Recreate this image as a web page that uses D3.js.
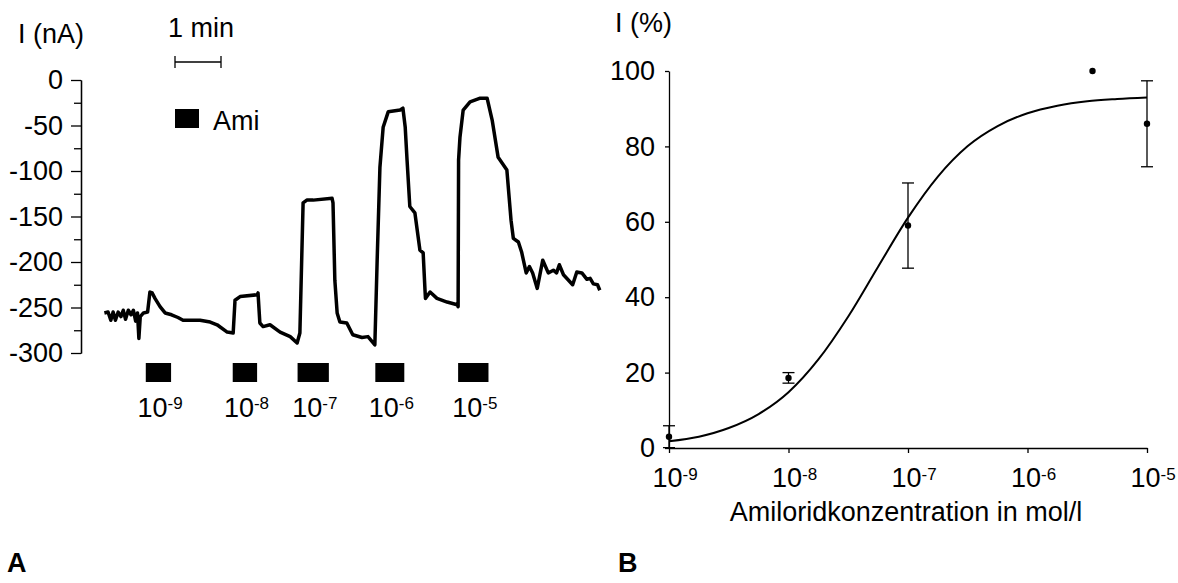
<!DOCTYPE html>
<html>
<head>
<meta charset="utf-8">
<script src="https://cdn.jsdelivr.net/npm/d3@7"></script>
<style>
  body { margin: 0; background: #fff; }
  svg { display: block; font-family: 'Liberation Sans', Arial, sans-serif; }
  .axis path, .axis line { stroke: #000; stroke-width: 1.3px; }
  .axis text { font-size: 27px; fill: #000; font-family: 'Liberation Sans', Arial, sans-serif; }
</style>
</head>
<body>
<div id="chart"></div>
<script>
// Panel A: current trace (time in min, current in nA)
const traceTime = [
  0.03, 0.11, 0.17, 0.22, 0.27, 0.33, 0.39, 0.44, 0.49, 0.55, 0.61, 0.66, 0.71, 0.75, 0.78, 0.81,
  0.88, 0.97, 1.02, 1.07, 1.13, 1.24, 1.35, 1.49, 1.63, 1.74, 2.0, 2.11, 2.33, 2.48, 2.7, 2.83,
  2.87, 2.98, 3.35, 3.37, 3.41, 3.48, 3.63, 3.85, 4.07, 4.22, 4.28, 4.35, 4.43, 4.57, 4.98, 5.0,
  5.04, 5.09, 5.15, 5.3, 5.43, 5.63, 5.76, 5.91, 5.96, 6.02, 6.09, 6.2, 6.46, 6.52, 6.57, 6.61,
  6.67, 6.78, 6.89, 6.96, 7.0, 7.01, 7.11, 7.26, 7.48, 7.7, 7.72, 7.73, 7.76, 7.83, 7.98, 8.2,
  8.35, 8.46, 8.59, 8.78, 8.87, 8.92, 9.03, 9.1, 9.2, 9.27, 9.34, 9.44, 9.56, 9.68, 9.79, 9.86,
  9.92, 10.01, 10.12, 10.21, 10.3, 10.41, 10.52, 10.59, 10.66, 10.75, 10.8,
];
const traceCurrent = [
  -256, -255, -264, -255, -264, -255, -260, -253, -263, -253, -258, -253, -265, -256, -284, -260,
  -256, -255, -233, -234, -240, -249, -256, -258, -261, -264, -264, -264, -266, -269, -277, -278,
  -242, -238, -236, -234, -267, -271, -269, -277, -282, -289, -278, -135, -132, -132, -130, -135,
  -220, -256, -266, -267, -280, -283, -282, -291, -198, -96, -52, -35, -33, -31, -52, -88,
  -139, -146, -187, -190, -231, -240, -233, -240, -244, -247, -249, -88, -63, -33, -24, -20,
  -20, -44, -85, -99, -154, -174, -178, -189, -212, -205, -212, -229, -198, -212, -209, -212,
  -203, -214, -220, -225, -211, -212, -219, -218, -224, -225, -231,
];
const amiStart = [0.93, 2.82, 4.23, 5.92, 7.72];
const amiEnd = [1.48, 3.35, 4.91, 6.55, 8.38];
const amiExponents = ['-9', '-8', '-7', '-6', '-5'];
const currentTicks = [0, -50, -100, -150, -200, -250, -300];
const currentMinorTicks = [-25, -75, -125, -175, -225, -275];

// Panel B: dose response (concentration in mol/l, current in %)
const doseConc = [1e-9, 1e-8, 1e-7, 3.5e-6, 1e-5];
const doseMean = [3.0, 18.6, 59.0, 100, 86];
const doseErr = [2.9, 1.4, 11.3, 0, 11.4];
const fitExponent = [-9, -8.75, -8.5, -8.25, -8, -7.75, -7.5, -7.25, -7, -6.75, -6.5, -6.25, -6, -5.75, -5.5, -5.25, -5];
const fitPercent = [1.8, 3.0, 5.3, 9.0, 14.8, 23.5, 34.9, 48.1, 61.1, 72.0, 80.1, 85.4, 88.8, 90.8, 92.0, 92.6, 93.0];
const concTicks = [1e-9, 1e-8, 1e-7, 1e-6, 1e-5];
const concTickExponents = ['-9', '-8', '-7', '-6', '-5'];
const percentTicks = [0, 20, 40, 60, 80, 100];

const svg = d3
  .select('#chart')
  .append('svg')
  .attr('width', 1178)
  .attr('height', 583);

class TraceChart {
  constructor(_svg) {
    this.svg = _svg;
    this.initVis();
  }

  initVis() {
    const vis = this;

    // 1 min = 46 px
    vis.x = d3.scaleLinear().domain([0, 10.8]).range([103, 103 + 10.8 * 46]);
    vis.y = d3.scaleLinear().domain([-300, 0]).range([353, 80]);

    vis.g = vis.svg.append('g');

    vis.renderVis();
  }

  renderVis() {
    const vis = this;

    vis.g
      .append('g')
      .attr('class', 'axis')
      .attr('transform', 'translate(81,0)')
      .call(d3.axisLeft(vis.y).tickValues(currentMinorTicks).tickSize(7).tickSizeOuter(0).tickFormat(''));

    // plain hyphen as in the original, not the unicode minus
    vis.g
      .append('g')
      .attr('class', 'axis')
      .attr('transform', 'translate(81,0)')
      .call(
        d3
          .axisLeft(vis.y)
          .tickValues(currentTicks)
          .tickSize(10)
          .tickSizeOuter(0)
          .tickPadding(8)
          .tickFormat((d) => String(d))
      );

    vis.g
      .append('text')
      .attr('x', 18)
      .attr('y', 43)
      .style('font-size', '27px')
      .text('I (nA)');

    // scale bar
    const barLen = vis.x(1) - vis.x(0);
    const sb = vis.g.append('g').attr('transform', 'translate(175,62)');
    sb.append('line').attr('x1', 0).attr('x2', barLen).attr('stroke', '#000').attr('stroke-width', 1.3);
    sb.selectAll('.cap')
      .data([0, barLen])
      .enter()
      .append('line')
      .attr('x1', (d) => d)
      .attr('x2', (d) => d)
      .attr('y1', -6)
      .attr('y2', 6)
      .attr('stroke', '#000')
      .attr('stroke-width', 1.3);
    vis.g
      .append('text')
      .attr('x', 168)
      .attr('y', 37)
      .style('font-size', '27px')
      .text('1 min');

    // legend
    vis.g.append('rect').attr('x', 175).attr('y', 109).attr('width', 24).attr('height', 19).attr('fill', '#000');
    vis.g
      .append('text')
      .attr('x', 213)
      .attr('y', 130)
      .style('font-size', '27px')
      .text('Ami');

    const line = d3
      .line()
      .x((d, i) => vis.x(traceTime[i]))
      .y((d) => vis.y(d));

    vis.g
      .append('path')
      .datum(traceCurrent)
      .attr('d', line)
      .attr('fill', 'none')
      .attr('stroke', '#000')
      .attr('stroke-width', 3.5)
      .attr('stroke-linejoin', 'round');

    // amiloride application bars
    vis.g
      .selectAll('.ami')
      .data(amiStart)
      .enter()
      .append('rect')
      .attr('x', (d) => vis.x(d))
      .attr('y', 363)
      .attr('width', (d, i) => vis.x(amiEnd[i]) - vis.x(d))
      .attr('height', 19)
      .attr('fill', '#000');

    const lab = vis.g
      .selectAll('.amiLabel')
      .data(amiStart)
      .enter()
      .append('text')
      .attr('x', (d, i) => (vis.x(d) + vis.x(amiEnd[i])) / 2 - 21)
      .attr('y', 417)
      .style('font-size', '27px');
    lab.append('tspan').text('10');
    lab
      .append('tspan')
      .attr('dy', -8)
      .style('font-size', '17px')
      .text((d, i) => amiExponents[i]);

    vis.g
      .append('text')
      .attr('x', 7)
      .attr('y', 572)
      .style('font-size', '27px')
      .style('font-weight', 'bold')
      .text('A');
  }
}

class DoseChart {
  constructor(_svg) {
    this.svg = _svg;
    this.initVis();
  }

  initVis() {
    const vis = this;

    vis.x = d3.scaleLog().domain([1e-9, 1e-5]).range([669, 1147]);
    vis.y = d3.scaleLinear().domain([0, 100]).range([448, 71]);

    vis.g = vis.svg.append('g');

    vis.renderVis();
  }

  renderVis() {
    const vis = this;

    const xAxis = vis.g
      .append('g')
      .attr('class', 'axis')
      .attr('transform', 'translate(0,448)')
      .call(d3.axisBottom(vis.x).tickValues(concTicks).tickSize(5).tickSizeOuter(0).tickFormat(''));

    const tickText = xAxis
      .selectAll('.tick')
      .append('text')
      .attr('x', -17)
      .attr('y', 39)
      .attr('text-anchor', 'start')
      .attr('fill', '#000');
    tickText.append('tspan').text('10');
    tickText
      .append('tspan')
      .attr('dy', -7)
      .style('font-size', '17px')
      .text((d, i) => concTickExponents[i]);

    vis.g
      .append('g')
      .attr('class', 'axis')
      .attr('transform', 'translate(669,0)')
      .call(d3.axisLeft(vis.y).tickValues(percentTicks).tickSize(4).tickSizeOuter(0).tickPadding(10));

    vis.g
      .append('text')
      .attr('x', 615)
      .attr('y', 32)
      .style('font-size', '27px')
      .text('I (%)');

    vis.g
      .append('text')
      .attr('x', 906)
      .attr('y', 521)
      .attr('text-anchor', 'middle')
      .style('font-size', '27px')
      .text('Amiloridkonzentration in mol/l');

    const fitLine = d3
      .line()
      .x((d, i) => vis.x(Math.pow(10, fitExponent[i])))
      .y((d) => vis.y(d))
      .curve(d3.curveMonotoneX);

    vis.g
      .append('path')
      .datum(fitPercent)
      .attr('d', fitLine)
      .attr('fill', 'none')
      .attr('stroke', '#000')
      .attr('stroke-width', 2);

    // error bars
    const err = vis.g
      .selectAll('.err')
      .data(doseConc.filter((d, i) => doseErr[i] > 0))
      .enter()
      .append('g');
    const errOf = (d) => doseErr[doseConc.indexOf(d)];
    const meanOf = (d) => doseMean[doseConc.indexOf(d)];
    err
      .append('line')
      .attr('x1', (d) => vis.x(d))
      .attr('x2', (d) => vis.x(d))
      .attr('y1', (d) => vis.y(meanOf(d) + errOf(d)))
      .attr('y2', (d) => vis.y(Math.max(0, meanOf(d) - errOf(d))))
      .attr('stroke', '#000')
      .attr('stroke-width', 1.3);
    err
      .selectAll('.cap')
      .data((d) => [
        [d, meanOf(d) + errOf(d)],
        [d, meanOf(d) - errOf(d)],
      ])
      .enter()
      .append('line')
      .attr('x1', (d) => vis.x(d[0]) - 6)
      .attr('x2', (d) => vis.x(d[0]) + 6)
      .attr('y1', (d) => vis.y(d[1]))
      .attr('y2', (d) => vis.y(d[1]))
      .attr('stroke', '#000')
      .attr('stroke-width', 1.3);

    vis.g
      .selectAll('.dot')
      .data(doseConc)
      .enter()
      .append('circle')
      .attr('cx', (d) => vis.x(d))
      .attr('cy', (d, i) => vis.y(doseMean[i]))
      .attr('r', 3.2)
      .attr('fill', '#000');

    vis.g
      .append('text')
      .attr('x', 618)
      .attr('y', 572)
      .style('font-size', '27px')
      .style('font-weight', 'bold')
      .text('B');
  }
}

new TraceChart(svg);
new DoseChart(svg);
</script>
</body>
</html>
